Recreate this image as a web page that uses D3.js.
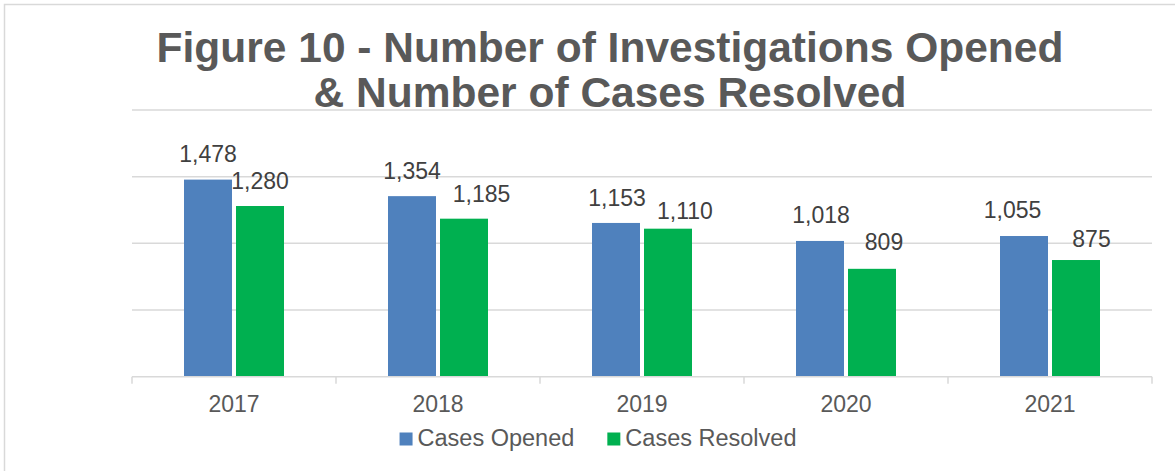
<html>
<head>
<meta charset="utf-8"/>
<script src="https://d3js.org/d3.v7.min.js"></script>
<style type="text/css">
body {
  margin: 0;
  overflow: hidden;
  background: #fff;
  font-family: Arial, "Liberation Sans", Helvetica, sans-serif;
}
</style>
</head>
<body>
<div id="v"></div>
<script type="text/javascript">
// data
var years = ["2017", "2018", "2019", "2020", "2021"];
var seriesNames = ["Cases Opened", "Cases Resolved"];
var casesOpened = [1478, 1354, 1153, 1018, 1055];
var casesResolved = [1280, 1185, 1110, 809, 875];
var yTicks = [0, 500, 1000, 1500, 2000];
var titleLines = ["Figure 10 - Number of Investigations Opened", "& Number of Cases Resolved"];

var colors = {"Cases Opened": "#4F81BD", "Cases Resolved": "#00B050"};
// hand nudges of the data labels (dx, dy above bar top), as in the original
var labelNudge = {
  "Cases Opened":   [[0, 18], [0, 17], [1, 17], [1, 18], [-11.5, 18]],
  "Cases Resolved": [[0, 17], [17.5, 17], [17, 10], [12, 19], [15.5, 13]]
};

var width = 1175, height = 471;
var svg = d3.select("#v").append("svg")
  .attr("width", width)
  .attr("height", height);

// outer chart frame (only top and left edges fall inside the picture)
svg.append("rect")
  .attr("x", 4.5).attr("y", 4.5)
  .attr("width", 1400).attr("height", 700)
  .attr("fill", "none")
  .attr("stroke", "#d9d9d9")
  .attr("stroke-width", 1.5);

// title
svg.append("text")
  .attr("x", 610)
  .attr("text-anchor", "middle")
  .attr("fill", "#595959")
  .style("font-size", "42.5px")
  .style("font-weight", "bold")
  .selectAll("tspan")
  .data(titleLines).enter()
  .append("tspan")
  .attr("x", 610)
  .attr("y", function(d, i) { return 61.5 + i * 45.5; })
  .text(function(d) { return d; });

var plotLeft = 132, plotRight = 1152, plotTop = 110, plotBottom = 376.7;

var x0 = d3.scaleBand().domain(years).range([plotLeft, plotRight]);
var x1 = d3.scaleBand().domain(seriesNames)
  .range([52, 152])
  .paddingInner(4 / 52);
var y = d3.scaleLinear().domain([0, 2000]).range([plotBottom, plotTop]);

// gridlines
svg.append("g").selectAll("line")
  .data(yTicks.filter(function(t) { return t > 0; })).enter()
  .append("line")
  .attr("x1", plotLeft).attr("x2", plotRight)
  .attr("y1", function(d) { return y(d); })
  .attr("y2", function(d) { return y(d); })
  .attr("stroke", "#d9d9d9")
  .attr("stroke-width", 1.5);

var rows = years.map(function(yr, i) {
  return {year: yr, values: [
    {name: "Cases Opened", value: casesOpened[i], i: i},
    {name: "Cases Resolved", value: casesResolved[i], i: i}
  ]};
});

var groups = svg.append("g").selectAll("g")
  .data(rows).enter()
  .append("g")
  .attr("transform", function(d) { return "translate(" + x0(d.year) + ",0)"; });

groups.selectAll("rect")
  .data(function(d) { return d.values; }).enter()
  .append("rect")
  .attr("x", function(d) { return x1(d.name); })
  .attr("y", function(d) { return y(d.value); })
  .attr("width", x1.bandwidth())
  .attr("height", function(d) { return plotBottom - y(d.value); })
  .attr("fill", function(d) { return colors[d.name]; });

groups.selectAll("text")
  .data(function(d) { return d.values; }).enter()
  .append("text")
  .attr("x", function(d) { return x1(d.name) + x1.bandwidth() / 2 + labelNudge[d.name][d.i][0]; })
  .attr("y", function(d) { return y(d.value) - labelNudge[d.name][d.i][1]; })
  .attr("text-anchor", "middle")
  .attr("fill", "#404040")
  .style("font-size", "23px")
  .text(function(d) { return d3.format(",")(d.value); });

// x axis
var xAxis = svg.append("g");
xAxis.append("line")
  .attr("x1", plotLeft).attr("x2", plotRight)
  .attr("y1", plotBottom).attr("y2", plotBottom)
  .attr("stroke", "#d9d9d9")
  .attr("stroke-width", 1.5);
xAxis.selectAll(".tick")
  .data(years.concat(["end"])).enter()
  .append("line")
  .attr("class", "tick")
  .attr("x1", function(d) { return d === "end" ? plotRight : x0(d); })
  .attr("x2", function(d) { return d === "end" ? plotRight : x0(d); })
  .attr("y1", plotBottom).attr("y2", plotBottom + 7)
  .attr("stroke", "#d9d9d9")
  .attr("stroke-width", 1.5);
xAxis.selectAll(".lbl")
  .data(years).enter()
  .append("text")
  .attr("class", "lbl")
  .attr("x", function(d) { return x0(d) + x0.bandwidth() / 2; })
  .attr("y", 412)
  .attr("text-anchor", "middle")
  .attr("fill", "#595959")
  .style("font-size", "23px")
  .text(function(d) { return d; });

// legend
var legend = svg.append("g");
var items = legend.selectAll("g")
  .data(seriesNames).enter()
  .append("g");
items.append("rect")
  .attr("width", 13).attr("height", 13)
  .attr("y", 432.5)
  .attr("fill", function(d) { return colors[d]; });
items.append("text")
  .attr("x", 18)
  .attr("y", 446)
  .attr("fill", "#595959")
  .style("font-size", "23.5px")
  .text(function(d) { return d; });

var widths = [];
items.each(function() { widths.push(this.getBBox().width); });
var gap = 33;
var total = d3.sum(widths) + gap * (widths.length - 1);
var cursor = 598 - total / 2;
items.attr("transform", function(d, i) {
  var tx = cursor;
  cursor += widths[i] + gap;
  return "translate(" + tx + ",0)";
});
</script>
</body>
</html>
